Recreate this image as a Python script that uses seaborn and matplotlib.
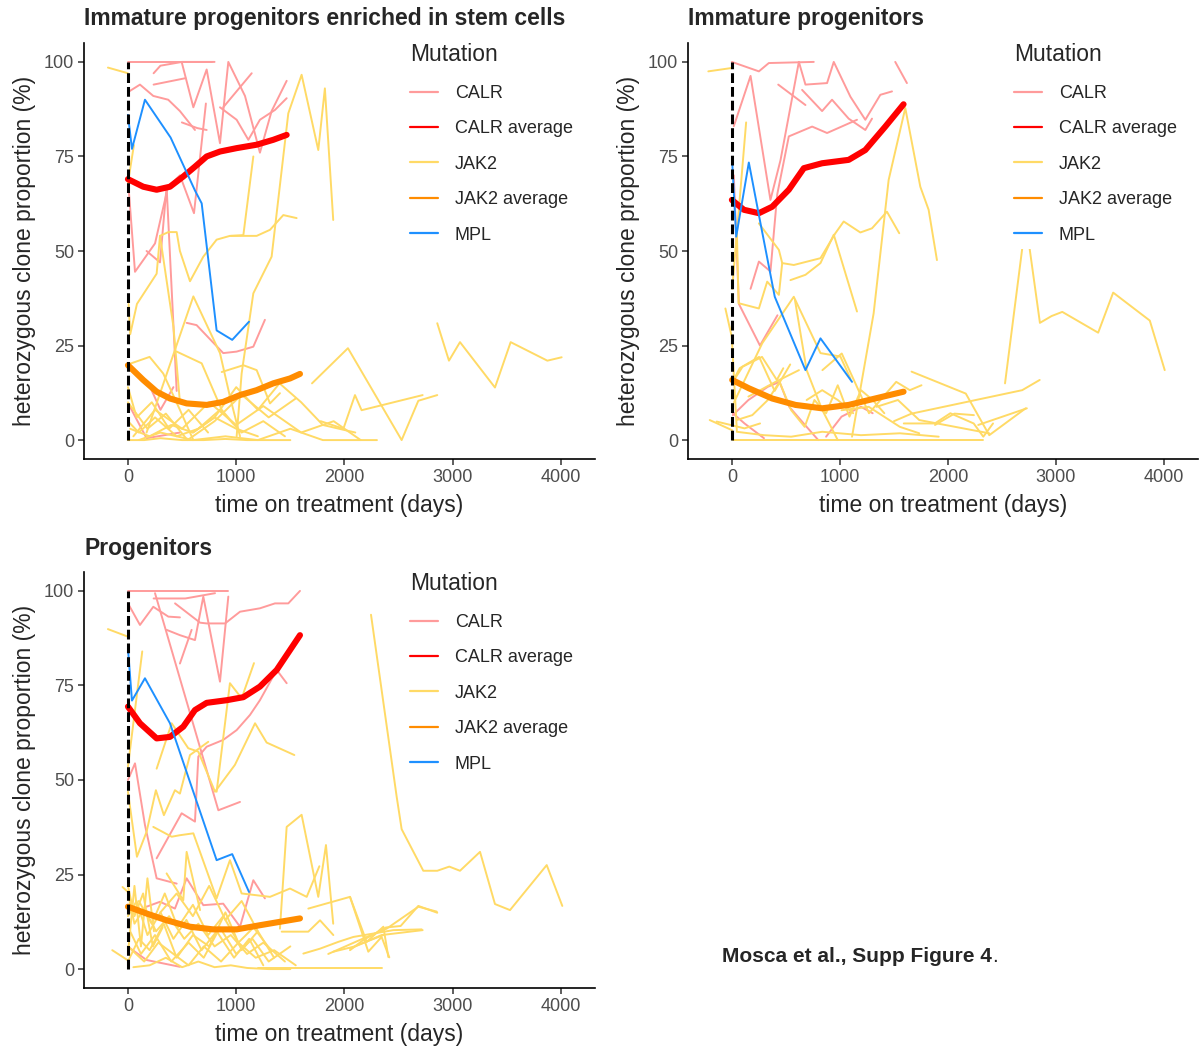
import matplotlib
matplotlib.use("Agg")
from matplotlib import pyplot as plt
from matplotlib.lines import Line2D
import seaborn as sns
import pandas as pd

# ---- data (days, % heterozygous clone) ----
panel_titles = ["Immature progenitors enriched in stem cells",
                "Immature progenitors",
                "Progenitors"]
mutation_labels = ["CALR", "CALR average", "JAK2", "JAK2 average", "MPL"]
x_ticks = [0, 1000, 2000, 3000, 4000]
y_ticks = [0, 25, 50, 75, 100]

# panel 1
p1_calr = [
    ([0, 300, 773], [100, 100, 100]),
    ([237, 300, 500, 800], [97, 99, 100, 100]),
    ([0, 111, 234, 372, 480, 619], [92, 94, 91, 90, 87, 82]),
    ([237, 532], [94, 95.7]),
    ([498, 640, 727], [84, 82.5, 82]),
    ([496, 604, 727, 850, 927, 1081, 1219, 1327, 1466], [100, 88, 98, 78.5, 100, 91, 76, 87, 95]),
    ([0, 65, 250, 370, 480, 610, 720], [69, 44.5, 52, 67, 70, 60, 89]),
    ([172, 296, 357, 450], [50, 47, 67, 13]),
    ([542, 634, 880, 1004, 1158, 1265], [31, 30.4, 23, 23.4, 24.7, 31.8]),
    ([850, 1004, 1112, 1219, 1358, 1466], [88, 84.7, 79.4, 84.7, 87.3, 90.4]),
    ([880, 1143], [88, 97]),
    ([15, 172, 480], [9, 0.5, 2]),
    ([190, 300, 420], [15, 8, 14]),
]
p1_jak2 = [
    ([-185, 0], [98.5, 97]),
    ([0, 55], [68, 78]),
    ([6, 21, 83, 265, 296, 373, 450, 480, 573, 696, 819, 942, 1066, 1189, 1312, 1435, 1558],
     [36, 28, 36, 44, 54, 55, 55, 50, 42, 48.5, 53, 54, 54, 54, 55.6, 59.5, 58.7]),
    ([1004, 1050, 1158, 1327, 1481, 1604, 1758, 1819, 1896], [1, 17.6, 38.8, 48.5, 86.4, 96.6, 76.7, 93, 58.2]),
    ([950, 1066, 1158], [54, 54.2, 75]),
    ([296, 420, 480], [54, 30, 10]),
    ([0, 200, 326, 480, 604], [20, 22, 17.6, 8, 0]),
    ([172, 604, 850, 942, 1035], [2, 38, 23, 11.5, 1]),
    ([450, 681, 866, 973], [23.4, 20.3, 8, 4.4]),
    ([866, 1066, 1189, 1312, 1404], [18, 19.8, 18.5, 9.7, 12.4]),
    ([1700, 2032, 2528, 2682, 2857], [15, 24.3, 0, 10.4, 11.9]),
    ([1780, 1990, 2097, 2158, 2722], [5, 3, 11.9, 7.9, 11.9]),
    ([2857, 2965, 3067, 3390, 3535, 3874, 4006], [30.9, 21, 25.9, 13.9, 25.9, 21, 21.9]),
    ([0, 150, 300, 500, 700, 900, 1100, 1300, 1500], [0, 0, 0.5, 0, 0, 0.3, 0, 0, 0]),
    ([20, 200, 400, 600, 800, 1000, 1200], [3, 1, 4, 2, 6, 3, 1]),
    ([0, 100, 250, 450, 650, 850, 1050, 1250, 1450], [5, 2, 6, 1, 3, 8, 2, 5, 1]),
    ([50, 250, 500, 750, 1000, 1250, 1600, 1900, 2150], [1, 8, 3, 10, 4, 9, 2, 5, 0]),
    ([0, 180, 350, 550, 800, 1050, 1300, 1550], [10, 3, 7, 0, 5, 12, 6, 11]),
    ([100, 300, 600, 900, 1200, 1500, 1800, 2000, 2300], [0, 2, 0, 1, 0, 3, 0, 0, 0]),
    ([0, 80, 220, 380, 560, 740], [14, 6, 10, 3, 8, 2]),
    ([600, 800, 1000, 1200, 1400, 1600, 1800, 2100], [2, 6, 14, 8, 15, 10, 4, 2]),
]
p1_mpl = ([0, 37, 157, 394, 619, 681, 819, 963, 1118], [86, 77, 90, 80, 66, 62.6, 29, 26.5, 31.3])
p1_calr_avg_x = [0, 141, 265, 388, 511, 619, 727, 850, 1004, 1188, 1342, 1466]
p1_calr_avg_y = [69, 67, 66.2, 67, 69.7, 72.3, 75, 76.3, 77.2, 78.1, 79.4, 80.7]
p1_jak2_avg_x = [0, 141, 265, 388, 542, 727, 880, 1035, 1188, 1342, 1497, 1589]
p1_jak2_avg_y = [19.8, 15.9, 12.8, 11, 9.7, 9.3, 10.1, 11.9, 13.2, 15, 16.3, 17.5]

# panel 2
p2_calr = [
    ([0, 250, 342, 758], [100, 97.5, 99.7, 100]),
    ([18, 173, 357, 450, 620], [83, 96.3, 63.5, 74, 100]),
    ([620, 681, 881, 943, 1097, 1235, 1374, 1482], [100, 94, 94.4, 100, 90.8, 84.7, 91.3, 92.2]),
    ([1512, 1620], [100, 94.4]),
    ([429, 681], [94, 88.6]),
    ([18, 65, 260, 422], [70, 36, 25, 33]),
    ([173, 250, 357, 420, 527, 743, 881, 1158], [40, 47.2, 44.6, 65, 80.3, 82.9, 81.2, 84.7]),
    ([650, 835, 927, 1081, 1235, 1297], [92.6, 87, 90, 85, 82, 85]),
    ([9, 153, 333, 441, 531, 692, 800], [6.6, 10.6, 14.1, 15.4, 8.8, 3.5, 0]),
    ([9, 117, 297], [7.1, 4.4, 0.5]),
    ([872, 1015, 1195, 1303], [0.9, 6.2, 8.8, 7.1]),
]
p2_jak2 = [
    ([-218, 0], [97.5, 98.4]),
    ([3, 132], [40, 84]),
    ([250, 435, 466, 573, 820, 958, 1035, 1189, 1297, 1435, 1549],
     [57.3, 50.3, 46.8, 46.3, 48.1, 54.7, 57.8, 54.9, 56, 60.4, 54.7]),
    ([46, 62, 250, 327, 435, 466], [55.6, 36.2, 34.8, 41.9, 38.4, 46.8]),
    ([542, 681, 820, 943, 1158], [42.3, 43.7, 46.8, 54.3, 34]),
    ([20, 281, 573, 820, 1004, 1097], [10, 25.6, 37.9, 23, 22.1, 16.3]),
    ([-60, -1, 46], [34.8, 27.3, 2.6]),
    ([-205, 3], [5.3, 2.6]),
    ([1112, 1312, 1451, 1605, 1744, 1821, 1898], [0.9, 33.5, 68.8, 87.8, 67, 60.9, 47.6]),
    ([838, 1017, 1269, 1521, 1647, 1755], [18.5, 22.9, 7.1, 15.4, 13.2, 14.5]),
    ([0, 72, 252, 396, 540], [15, 19, 22, 13, 20]),
    ([1663, 2165, 2382, 2719], [18.1, 12.3, 1.3, 8.4]),
    ([1500, 1663, 2687, 2849], [5, 7, 13.2, 15.9]),
    ([2280, 2730], [4, 8.4]),
    ([1880, 2060, 2240], [4, 7, 6.6]),
    ([2528, 2720, 2851, 2959, 3058, 3390, 3529, 3868, 4006], [15, 58, 31, 32.8, 33.9, 28.4, 39, 31.6, 18.5]),
    ([9, 99, 279, 416, 476], [15.4, 19.4, 22, 15.9, 19]),
    ([153, 404, 621], [11.5, 15.4, 18.5]),
    ([45, 189, 333, 441, 549, 674, 764, 872, 980, 1088, 1195, 1303, 1411],
     [5.3, 6.6, 10.6, 15.4, 7.9, 3.5, 10.6, 7.1, 14.5, 6.2, 13.2, 10.6, 7.1]),
    ([9, 476, 1627, 2327], [0, 0, 0, 0]),
    ([45, 297, 549, 836, 1195, 1555, 1914], [2.2, 1.3, 0.9, 2.2, 1.3, 1.8, 0.9]),
    ([-141, 117, 261], [4.9, 3.1, 4.4]),
    ([584, 692, 836, 980], [37, 18.5, 8, 0]),
    ([1339, 1537, 1734, 2381], [8.8, 10.6, 5.3, 1.8]),
    ([1591, 1878, 2022, 2238, 2327, 2417], [4.4, 4.4, 7.1, 4.4, 0.9, 4.4]),
    ([1015, 1267, 1555, 1734], [7.9, 8.8, 3.5, 1.8]),
    ([692, 836, 980, 1123], [10.6, 13.2, 10.6, 7.1]),
]
p2_mpl = ([3, 40, 157, 265, 397, 681, 820, 1112], [73.6, 53.8, 73.4, 57.3, 37.9, 18.5, 26.9, 15.4])
p2_calr_avg_x = [0, 111, 250, 373, 527, 666, 835, 1081, 1235, 1420, 1589]
p2_calr_avg_y = [63.5, 60.9, 60, 61.7, 66.2, 71.9, 73.2, 74.1, 76.7, 82.9, 88.8]
p2_jak2_avg_x = [3, 157, 373, 589, 835, 1081, 1327, 1589]
p2_jak2_avg_y = [15.9, 13.7, 11, 9.3, 8.4, 9.3, 11, 12.8]

# panel 3
p3_calr = [
    ([0, 927], [100, 100]),
    ([237, 530, 804], [98, 98, 99.4]),
    ([0, 111, 234, 373, 480], [96.7, 91, 95.8, 93.2, 93]),
    ([435, 666, 727, 897, 1035, 1219, 1358, 1481, 1589], [96.7, 91.6, 91.4, 91.4, 94.5, 95.4, 96.7, 96.7, 100]),
    ([357, 480, 619, 696, 850, 927], [89.7, 88.3, 87, 98.5, 76, 98.5]),
    ([480, 588], [80.8, 89.7]),
    ([250, 835, 1035], [99.4, 42, 44.2]),
    ([0, 65, 157, 265, 450], [50, 54.4, 38.1, 24, 22.6]),
    ([265, 496, 619, 650, 727, 880, 1004, 1127, 1219, 1374, 1466],
     [29.3, 41.2, 39, 56.2, 58.8, 60.6, 63.2, 67.2, 71.1, 79.1, 75.6]),
    ([172, 296, 434, 542, 696, 880, 1035, 1158, 1265], [16.5, 17.8, 16, 24, 16.9, 17.3, 11.2, 23.5, 18.7]),
    ([0, 172, 480], [5.9, 2.4, 0.6]),
]
p3_jak2 = [
    ([-185, 0], [89.9, 87.9]),
    ([0, 132], [53.5, 84]),
    ([265, 404, 557, 650, 804, 988, 1174, 1281, 1537], [53, 65, 58.4, 57.5, 46.9, 54, 65, 59.9, 56.6]),
    ([819, 942, 1050, 1164], [46.9, 75.6, 71.6, 80.9]),
    ([0, 83, 172, 258, 332, 434, 480, 573, 742], [46.9, 29.7, 36.3, 47.3, 40.7, 47.3, 46.4, 56.6, 60.1]),
    ([234, 404, 480, 604, 819, 942, 1050, 1312, 1497, 1651, 1768],
     [37.6, 35, 35.4, 35.9, 18.7, 28.8, 20, 19.1, 21.3, 19.1, 27.2]),
    ([357, 511, 542, 666], [25.3, 18.2, 31, 15.6]),
    ([1404, 1466, 1604, 1758, 1829, 1896], [10.7, 37.6, 40.8, 19.1, 32.8, 12]),
    ([2245, 2482, 2528, 2728, 2857, 2968, 3067, 3252, 3390, 3529, 3868, 4012],
     [93.7, 45.6, 37, 26, 26, 27.1, 26, 31, 17.2, 15.6, 27.5, 16.7]),
    ([2051, 2220, 2343, 2414], [19.1, 4.6, 8.5, 3.1]),
    ([2051, 2174, 2383, 2519, 2682, 2857], [5, 7.7, 11, 11.4, 16.7, 14.9]),
    ([2051, 2343, 2722], [5.4, 9, 10.3]),
    ([1200, 1700, 2051, 2343], [0.3, 0.3, 0.3, 0.3]),
    ([1666, 2051, 2205, 2359, 2405], [16, 19.1, 7.2, 11.2, 3.2]),
    ([1850, 2174, 2390, 2683, 2852], [4, 8.1, 10.7, 16.5, 15.2]),
    ([1897, 2082, 2359], [4.6, 5.9, 9]),
    ([1420, 1666, 1774, 1897], [9.9, 9.9, 12.9, 9]),
    ([1620, 1774, 1943, 2082, 2451, 2713], [4.1, 5.4, 7.2, 8.5, 10.3, 10.5]),
    ([0, 60, 150, 260, 380, 520, 650, 800, 950, 1100, 1250, 1450], [20, 12, 16, 10, 14, 8, 12, 6, 9, 4, 7, 2]),
    ([0, 100, 200, 330, 450, 600, 750, 900, 1050, 1200, 1350], [2, 8, 5, 12, 3, 9, 6, 15, 5, 10, 3]),
    ([20, 120, 250, 400, 560, 700, 850, 1000, 1150, 1300, 1500], [10, 4, 9, 2, 7, 3, 11, 4, 8, 2, 6]),
    ([0, 80, 180, 300, 420, 540, 680, 820, 980, 1120, 1250], [14, 18, 9, 15, 8, 13, 5, 10, 3, 8, 1]),
    ([50, 200, 350, 500, 650, 800, 950, 1100, 1300, 1500], [0.5, 1, 3, 0.5, 2, 0.5, 1, 0.3, 0, 0]),
    ([0, 150, 280, 420, 560, 700, 860, 1020, 1180, 1350, 1550], [6, 2, 7, 4, 1, 6, 2, 7, 3, 5, 1]),
    ([100, 220, 340, 460, 600, 740, 880, 1020, 1160, 1320], [18, 12, 20, 11, 17, 9, 14, 7, 11, 5]),
    ([0, 60, 140, 230, 320], [22, 14, 20, 6, 11]),
    ([0, 60, 120, 180, 240], [4, 22, 6, 24, 10]),
    ([300, 450, 600, 750, 900, 1050, 1200], [15, 20, 14, 22, 13, 18, 10]),
    ([-145, 0], [5, 2.3]),
    ([-50, 0], [21.7, 20.4]),
]
p3_mpl = ([0, 37, 157, 388, 619, 819, 963, 1118], [84.8, 71, 76.9, 65, 45.6, 28.8, 30.4, 20.4])
p3_calr_avg_x = [0, 111, 265, 388, 511, 619, 727, 912, 1066, 1219, 1374, 1589]
p3_calr_avg_y = [69.4, 65, 61, 61.4, 64.1, 68.5, 70.4, 71.1, 71.9, 74.7, 79.1, 88.3]
p3_jak2_avg_x = [0, 172, 357, 573, 788, 1004, 1219, 1404, 1589]
p3_jak2_avg_y = [16.5, 14.7, 12.9, 11.2, 10.5, 10.5, 11.6, 12.5, 13.4]

colors = {"CALR": "#FF9B9B", "CALR average": "#FF0000", "JAK2": "#FFDA66",
          "JAK2 average": "#FF8C00", "MPL": "#1E90FF"}


def build_frame(calr, jak2, mpl, calr_avg, jak2_avg):
    rows = []
    pid = 0
    for mut, lines in [("CALR", calr), ("JAK2", jak2), ("MPL", [mpl]),
                       ("CALR average", [calr_avg]), ("JAK2 average", [jak2_avg])]:
        for xs, ys in lines:
            for order, (x, y) in enumerate(zip(xs, ys)):
                rows.append({"pid": pid, "order": order, "Mutation": mut, "time": x, "prop": y})
            pid += 1
    return pd.DataFrame(rows)


panels = [
    build_frame(p1_calr, p1_jak2, p1_mpl, (p1_calr_avg_x, p1_calr_avg_y), (p1_jak2_avg_x, p1_jak2_avg_y)),
    build_frame(p2_calr, p2_jak2, p2_mpl, (p2_calr_avg_x, p2_calr_avg_y), (p2_jak2_avg_x, p2_jak2_avg_y)),
    build_frame(p3_calr, p3_jak2, p3_mpl, (p3_calr_avg_x, p3_calr_avg_y), (p3_jak2_avg_x, p3_jak2_avg_y)),
]

sns.set_style("ticks")
plt.rcParams["font.family"] = ["Liberation Sans", "DejaVu Sans"]

W, H = 1200, 1048
fig = plt.figure(figsize=(12, 10.48), dpi=100)

# axes boxes in pixels: left, top, right, bottom
boxes = [(84, 43, 595, 459), (688, 43, 1198, 459), (84, 572, 595, 988)]
title_pos = [(84, 19), (688, 19), (84, 548)]
legend_pos = [(396, 29), (1000, 29), (396, 558)]

for k, df in enumerate(panels):
    l, t, r, b = boxes[k]
    ax = fig.add_axes([l / W, 1 - b / H, (r - l) / W, (b - t) / H])
    # individual patients first, then averages, MPL on top
    for mut, lw in [("CALR", 1.4), ("JAK2", 1.4), ("CALR average", 4.4),
                    ("JAK2 average", 4.4), ("MPL", 1.4)]:
        sub = df[df["Mutation"] == mut]
        sns.lineplot(data=sub, x="time", y="prop", hue="Mutation", units="pid",
                     estimator=None, sort=False, palette=colors, lw=lw,
                     legend=False, ax=ax)
    ax.plot([0, 0], [0, 100], color="black", lw=2.2, ls=(0, (3.2, 1.3)), zorder=4)

    ax.set_xlim(-406, 4314)
    ax.set_ylim(-5, 105)
    ax.set_xticks(x_ticks)
    ax.set_yticks(y_ticks)
    ax.tick_params(labelsize=13, labelcolor="#4D4D4D", color="#333333",
                   length=4, width=1.1, pad=3)
    for side in ["top", "right"]:
        ax.spines[side].set_visible(False)
    for side in ["left", "bottom"]:
        ax.spines[side].set_linewidth(1.2)
        ax.spines[side].set_color("black")
    ax.set_xlabel("time on treatment (days)", fontsize=16.5, labelpad=6)
    ax.set_ylabel("heterozygous clone proportion (%)", fontsize=16.5, labelpad=6)

    fig.text(title_pos[k][0] / W, 1 - title_pos[k][1] / H, panel_titles[k],
             fontsize=16.5, fontweight="bold", ha="left", va="center")

    handles = [Line2D([0], [0], color=colors[m], lw=1.6) for m in mutation_labels]
    lx, ly = legend_pos[k]
    leg = ax.legend(handles, mutation_labels, title="Mutation", loc="upper left",
                    bbox_to_anchor=(lx / W, 1 - ly / H), bbox_transform=fig.transFigure,
                    fontsize=13, title_fontsize=16.5, handlelength=1.55, handletextpad=0.9,
                    labelspacing=1.02, borderpad=0.3, alignment="left", frameon=True,
                    fancybox=False)
    leg.get_frame().set_facecolor("white")
    leg.get_frame().set_edgecolor("none")
    leg.get_frame().set_alpha(1)

note = fig.text(722 / W, 1 - 957 / H, "Mosca et al., Supp Figure 4", fontsize=15,
                fontweight="bold", ha="left", va="center")
fig.canvas.draw()
bb = note.get_window_extent(fig.canvas.get_renderer())
fig.text(bb.x1 / W, 1 - 957 / H, ".", fontsize=15, ha="left", va="center")

fig.savefig("out.png", dpi=100)
